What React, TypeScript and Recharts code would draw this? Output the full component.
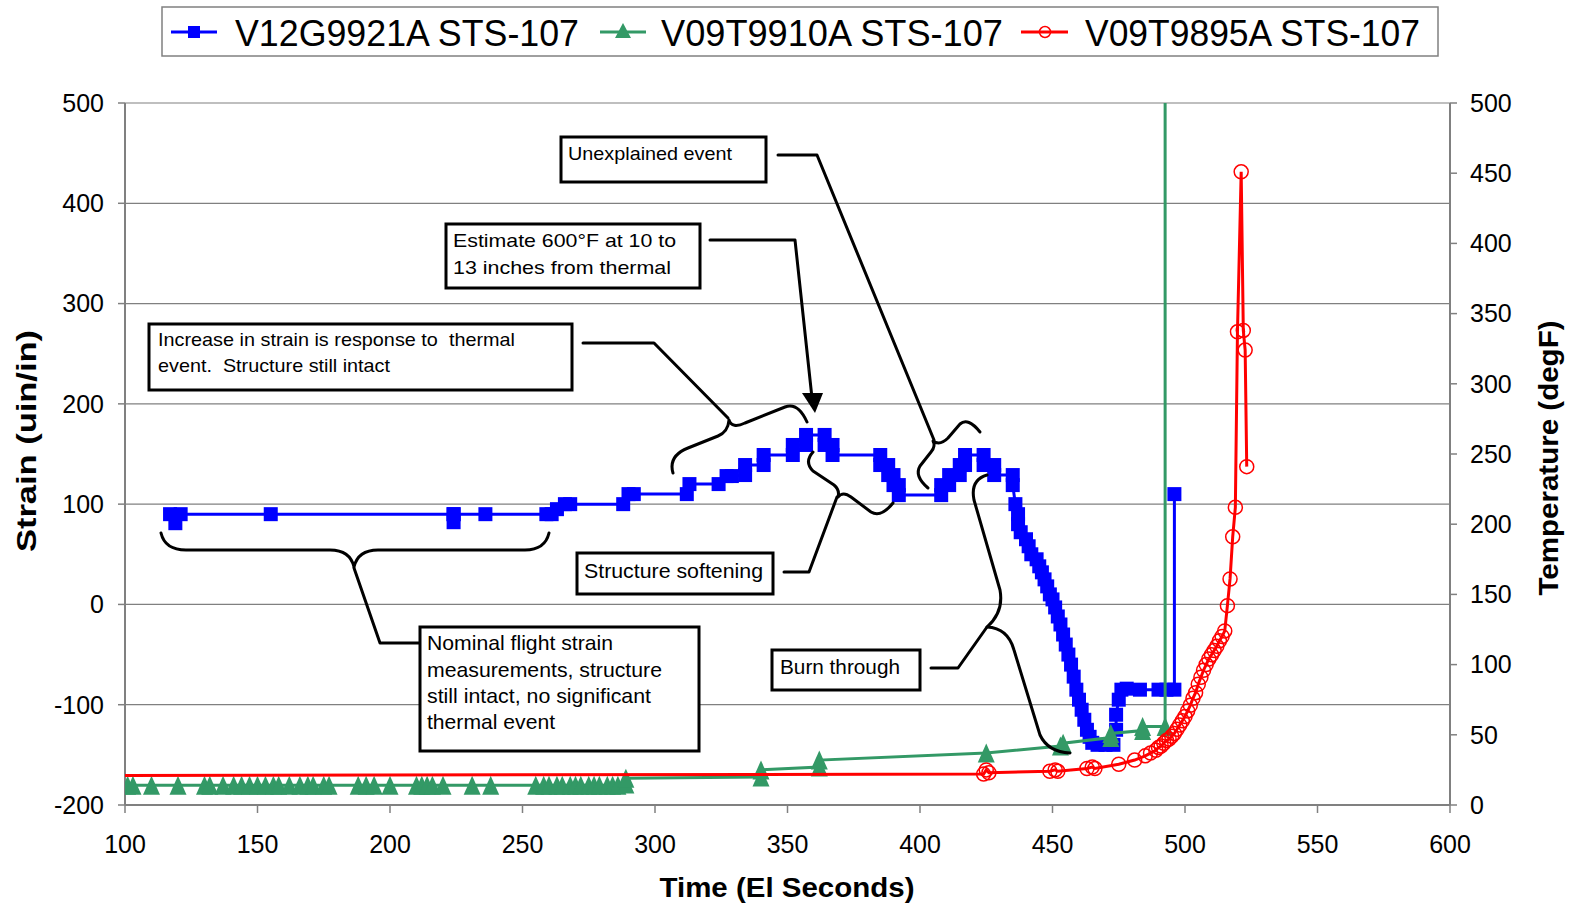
import { ComposedChart, Scatter, XAxis, YAxis, CartesianGrid } from 'recharts';

const FONT = '"Liberation Sans", Arial, sans-serif';

// V12G9921A strain (uin/in) vs time (El seconds)
const blueTime = [
  117, 119, 121, 155, 224, 224, 224, 236, 259, 261, 263, 266, 268, 288, 290, 292, 312, 313,
  324, 327, 329, 334, 334, 341, 341, 352, 352, 357, 357, 364, 364, 367, 367,
  385, 385, 388, 388, 390, 390, 392, 392, 408, 408, 411, 411, 415, 415, 417, 417,
  424, 424, 428, 428, 435, 435, 436, 437, 437, 438, 440, 441, 442, 444, 445, 446,
  447, 448, 449, 450, 451, 452, 453, 454, 455, 456, 457, 458, 459, 460, 461, 462,
  463, 464, 465, 467, 470, 473, 474, 474, 475, 476, 478, 483, 490, 493, 496, 496,
];
const blueStrain = [
  90, 81, 90, 90, 90, 82, 90, 90, 90, 90, 95, 100, 100, 100, 110, 110, 110, 120,
  120, 128, 128, 129, 139, 139, 149, 149, 159, 159, 169, 169, 159, 159, 149,
  149, 139, 139, 129, 129, 119, 119, 109, 109, 119, 119, 129, 129, 139, 139, 149,
  149, 139, 139, 129, 129, 119, 100, 90, 80, 72, 65, 58, 50, 45, 38, 32,
  25, 18, 10, 5, -3, -12, -20, -30, -40, -50, -60, -72, -85, -95, -105, -115,
  -125, -132, -138, -140, -140, -140, -125, -110, -95, -85, -84, -85, -85, -85, -85, 110,
];

// V09T9910A temperature (degF)
const greenTime = [
  101, 103, 110, 120, 130, 132, 137, 141, 144, 147, 150, 153, 156, 158, 162, 166,
  169, 171, 175, 177, 188, 191, 194, 200, 210, 212, 214, 216, 220, 231, 238, 255,
  258, 260, 263, 265, 268, 270, 272, 275, 277, 279, 282, 284, 286, 289, 289,
  340, 340, 362, 362, 425, 453, 454, 472, 472, 484, 484, 492.5, 492.5,
];
const greenTemp = [
  14, 14, 14, 14, 14, 14, 14, 14, 14, 14, 14, 14, 14, 14, 14, 14,
  14, 14, 14, 14, 14, 14, 14, 14, 14, 14, 14, 14, 14, 14, 14, 14,
  14, 14, 14, 14, 14, 14, 14, 14, 14, 14, 14, 14, 14, 15, 19,
  20, 25, 27, 32, 37, 42, 44, 48, 51, 53, 56, 56, 700,
];

// V09T9895A temperature (degF)
const redTime = [
  80, 424, 425, 426, 449, 451, 452, 463, 465, 466, 475, 481, 485, 487, 489, 490,
  491, 492, 493, 494, 495, 496, 497, 498, 499, 500, 501, 502, 503, 504, 505, 506,
  507, 508, 509, 510, 511, 512, 513, 514, 515, 516, 517, 518, 519, 519.8, 521.2,
  522, 522.7, 523.3,
];
const redTemp = [
  21, 22, 25, 23, 24, 25, 24, 26, 27, 26, 29, 32, 35, 37, 39, 41,
  42, 44, 46, 47, 49, 51, 54, 57, 60, 63, 67, 71, 76, 80, 86, 91,
  96, 100, 104, 107, 110, 113, 117, 120, 124, 142, 161, 191, 212, 337, 451,
  338, 324, 241,
];

const xTicks = [100, 150, 200, 250, 300, 350, 400, 450, 500, 550, 600];
const strainTicks = [-200, -100, 0, 100, 200, 300, 400, 500];
const tempTicks = [0, 50, 100, 150, 200, 250, 300, 350, 400, 450, 500];

const seriesNames = ['V12G9921A STS-107', 'V09T9910A STS-107', 'V09T9895A STS-107'];

const blueData = blueTime.map((t, i) => ({ t, v: blueStrain[i] }));
const greenData = greenTime.map((t, i) => ({ t, v: greenTemp[i] }));
const redData = redTime.map((t, i) => ({ t, v: redTemp[i] }));

const BLUE = '#0000FF';
const GREEN = '#339966';
const RED = '#FF0000';
const AXIS = '#808080';

const SquareDot = (p: any) => (
  <rect x={p.cx - 7} y={p.cy - 7} width={14} height={14} fill={BLUE} />
);
const TriangleDot = (p: any) => (
  <polygon
    points={`${p.cx},${p.cy - 9.5} ${p.cx + 8.5},${p.cy + 9.5} ${p.cx - 8.5},${p.cy + 9.5}`}
    fill={GREEN}
  />
);
const CircleDot = (p: any) => (
  <circle cx={p.cx} cy={p.cy} r={7} fill="none" stroke={RED} strokeWidth={1.5} />
);

const tickStyle = { fontSize: 25, fill: '#000', fontFamily: FONT };

function Box({ x, y, w, h }: { x: number; y: number; w: number; h: number }) {
  return <rect x={x} y={y} width={w} height={h} fill="#fff" stroke="#000" strokeWidth={3} />;
}

function Txt({ x, y, len, size, children }: any) {
  return (
    <text
      x={x}
      y={y}
      fontSize={size}
      fontFamily={FONT}
      fill="#000"
      textLength={len}
      lengthAdjust="spacingAndGlyphs"
      style={{ whiteSpace: 'pre' }}
    >
      {children}
    </text>
  );
}

function Overlay() {
  const ln = { fill: 'none', stroke: '#000', strokeWidth: 3, strokeLinejoin: 'round' as const, strokeLinecap: 'round' as const };
  return (
    <svg width={1569} height={907} style={{ position: 'absolute', left: 0, top: 0, pointerEvents: 'none' }}>
      {/* legend */}
      <rect x={162} y={7} width={1276} height={49} fill="#fff" stroke={AXIS} strokeWidth={1.5} />
      <line x1={171} y1={32} x2={217} y2={32} stroke={BLUE} strokeWidth={3} />
      <rect x={188} y={26} width={12} height={12} fill={BLUE} />
      <Txt x={235} y={46} len={344} size={36}>{seriesNames[0]}</Txt>
      <line x1={600} y1={32} x2={646} y2={32} stroke={GREEN} strokeWidth={3} />
      <polygon points="623,23 631,38 615,38" fill={GREEN} />
      <Txt x={661} y={46} len={342} size={36}>{seriesNames[1]}</Txt>
      <line x1={1021} y1={32} x2={1068} y2={32} stroke={RED} strokeWidth={3} />
      <circle cx={1045} cy={32} r={5.5} fill="none" stroke={RED} strokeWidth={1.5} />
      <Txt x={1085} y={46} len={335} size={36}>{seriesNames[2]}</Txt>

      {/* axis titles */}
      <text x={787} y={897} textAnchor="middle" fontSize={28} fontWeight="bold" fontFamily={FONT} textLength={255} lengthAdjust="spacingAndGlyphs">
        Time (El Seconds)
      </text>
      <text x={36} y={441} transform="rotate(-90 36 441)" textAnchor="middle" fontSize={28} fontWeight="bold" fontFamily={FONT} textLength={222} lengthAdjust="spacingAndGlyphs">
        Strain (uin/in)
      </text>
      <text x={1558} y={458} transform="rotate(-90 1558 458)" textAnchor="middle" fontSize={28} fontWeight="bold" fontFamily={FONT} textLength={275} lengthAdjust="spacingAndGlyphs">
        Temperature (degF)
      </text>

      {/* Unexplained event */}
      <polyline points="778,155 817,155 934,440" {...ln} />
      <path d="M928,488 Q914,476 920,466 L931,452 Q936,446 933,441 Q940,446 948,438 L960,424 Q968,417 980,432" {...ln} />
      <Box x={561} y={137} w={205} h={45} />
      <Txt x={568} y={160} len={164} size={19}>Unexplained event</Txt>

      {/* Estimate 600F */}
      <polyline points="710,240 795,240 812,398" {...ln} />
      <polygon points="802,393 823,393 815,413" fill="#000" />
      <Box x={446} y={224} w={254} h={64} />
      <Txt x={453} y={247} len={223} size={19}>Estimate 600°F at 10 to</Txt>
      <Txt x={453} y={274} len={218} size={19}>13 inches from thermal</Txt>

      {/* Increase in strain */}
      <polyline points="583,343 654,343 728,418" {...ln} />
      <path d="M673,473 Q668,456 688,448 L718,436 Q728,432 729,420 Q732,429 745,423 L785,407 Q798,402 807,422" {...ln} />
      <Box x={149} y={324} w={423} h={66} />
      <Txt x={158} y={346} len={357} size={19}>Increase in strain is response to  thermal</Txt>
      <Txt x={158} y={372} len={232} size={19}>event.  Structure still intact</Txt>

      {/* Structure softening */}
      <polyline points="784,572 809,572 837,497" {...ln} />
      <path d="M813,452 Q804,462 813,471 L834,485 Q840,490 838,497 Q843,491 851,497 L871,512 Q881,518 893,503" {...ln} />
      <Box x={577} y={553} w={196} h={41} />
      <Txt x={584} y={578} len={179} size={21}>Structure softening</Txt>

      {/* Nominal flight */}
      <polyline points="419,643 380,643 354,568" {...ln} />
      <path d="M161,533 Q165,550 186,550 L330,550 Q350,550 354,567 Q358,550 378,550 L525,550 Q545,550 549,533" {...ln} />
      <Box x={420} y={627} w={279} h={124} />
      <Txt x={427} y={650} len={186} size={21}>Nominal flight strain</Txt>
      <Txt x={427} y={677} len={235} size={21}>measurements, structure</Txt>
      <Txt x={427} y={703} len={224} size={21}>still intact, no significant</Txt>
      <Txt x={427} y={729} len={128} size={21}>thermal event</Txt>

      {/* Burn through */}
      <polyline points="931,668 958,668 987,627" {...ln} />
      <path d="M987,475 Q970,480 974,500 L1000,590 Q1004,612 987,627 Q1008,628 1014,650 L1040,735 Q1048,752 1070,753" {...ln} />
      <Box x={772} y={650} w={148} h={40} />
      <Txt x={780} y={674} len={120} size={21}>Burn through</Txt>
    </svg>
  );
}

export default function App() {
  return (
    <div style={{ position: 'absolute', left: 0, top: 0, width: 1569, height: 907, background: '#fff' }}>
      <ComposedChart width={1569} height={907} margin={{ top: 103, right: 0, bottom: 0, left: 0 }}>
        <CartesianGrid yAxisId="left" vertical={false} stroke={AXIS} strokeWidth={1.2} />
        <XAxis
          type="number"
          dataKey="t"
          domain={[100, 600]}
          ticks={xTicks}
          interval={0}
          allowDataOverflow
          height={102}
          tick={tickStyle}
          tickSize={8}
          tickMargin={22}
          axisLine={{ stroke: AXIS, strokeWidth: 2 }}
          tickLine={{ stroke: AXIS, strokeWidth: 1.5 }}
        />
        <YAxis
          yAxisId="left"
          type="number"
          dataKey="v"
          domain={[-200, 500]}
          ticks={strainTicks}
          interval={0}
          allowDataOverflow
          width={125}
          tick={tickStyle}
          tickSize={7}
          tickMargin={14}
          axisLine={{ stroke: AXIS, strokeWidth: 2 }}
          tickLine={{ stroke: AXIS, strokeWidth: 1.5 }}
        />
        <YAxis
          yAxisId="right"
          orientation="right"
          type="number"
          dataKey="v"
          domain={[0, 500]}
          ticks={tempTicks}
          interval={0}
          allowDataOverflow
          width={119}
          tick={tickStyle}
          tickSize={7}
          tickMargin={13}
          axisLine={{ stroke: AXIS, strokeWidth: 2 }}
          tickLine={{ stroke: AXIS, strokeWidth: 1.5 }}
        />
        <Scatter
          name={seriesNames[0]}
          data={blueData}
          yAxisId="left"
          fill={BLUE}
          line={{ stroke: BLUE, strokeWidth: 3 }}
          shape={SquareDot}
          isAnimationActive={false}
        />
        <Scatter
          name={seriesNames[1]}
          data={greenData}
          yAxisId="right"
          fill={GREEN}
          line={{ stroke: GREEN, strokeWidth: 3 }}
          shape={TriangleDot}
          isAnimationActive={false}
        />
        <Scatter
          name={seriesNames[2]}
          data={redData}
          yAxisId="right"
          fill={RED}
          line={{ stroke: RED, strokeWidth: 3 }}
          shape={CircleDot}
          isAnimationActive={false}
        />
      </ComposedChart>
      <Overlay />
    </div>
  );
}
